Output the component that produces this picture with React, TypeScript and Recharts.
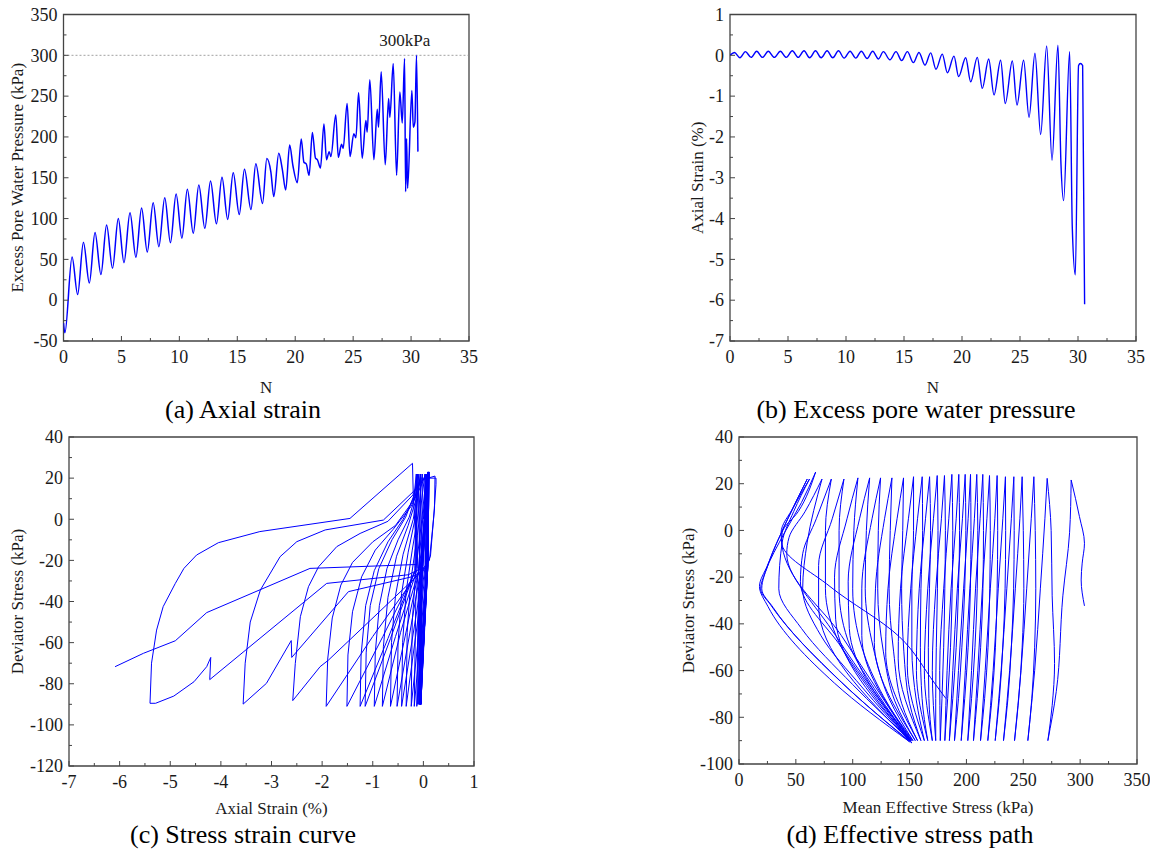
import { Line, LineChart, ReferenceArea, ReferenceDot, ReferenceLine, XAxis, YAxis } from "recharts";

const FONT = '"Liberation Serif", "Times New Roman", Times, serif';
const BLUE = "#0000ff";
const INK = "#1a1a1a";
const FRAME = "#444";

type Pt = [number, number];

// (a) excess pore water pressure against cycle number
const poreN = [
  0, 0.12, 0.74, 1.22, 1.72, 2.23, 2.72, 3.23, 3.72, 4.23, 4.73, 5.22, 5.74, 6.25, 6.74, 7.23, 7.74, 8.23,
  8.74, 9.23, 9.72, 10.22, 10.69, 11.2, 11.68, 12.2, 12.69, 13.2, 13.68, 14.17, 14.65, 15.17, 15.62, 16.18,
  16.6, 17.18, 17.55, 17.9, 18.15, 18.58, 18.88, 19.18, 19.52, 19.8, 20.18, 20.52, 20.75, 20.95, 21.2, 21.48,
  21.75, 21.92, 22.18, 22.48, 22.7, 22.93, 23.08, 23.5, 23.72, 24.0, 24.14, 24.48, 24.73, 25.06, 25.24, 25.47,
  25.78, 26.1, 26.21, 26.44, 26.79, 27.08, 27.19, 27.42, 27.77, 28.06, 28.17, 28.46, 28.75, 29.03, 29.24,
  29.44, 29.53, 29.61, 29.7, 30.07, 30.19, 30.33, 30.47, 30.59,
];
const poreKPa = [
  -28, -40, 53, 7, 71, 21, 83, 31.5, 92, 39, 100, 46, 107, 52.5, 113, 59, 119.5, 65.5, 125.5, 70.5, 130, 76,
  136, 82, 141, 88, 146, 93.5, 150.5, 99, 156, 105, 160.5, 111, 167, 118.5, 173.5, 157, 127, 180, 161, 135,
  190, 165, 144, 197.5, 169, 167, 153, 205.5, 174, 172, 162, 216, 172, 182, 176, 227, 175, 191, 186, 241, 176,
  204, 199, 254, 174, 220, 206, 270, 172, 234, 212, 280, 166, 247, 224, 290, 153, 255, 217, 296, 133, 198, 137,
  257, 212, 218, 300, 182,
];

// (b) axial strain against cycle number
const strainN = [
  0, 0.38, 0.86, 1.33, 1.82, 2.3, 2.8, 3.3, 3.82, 4.34, 4.85, 5.37, 5.88, 6.38, 6.87, 7.37, 7.86, 8.37, 8.86,
  9.35, 9.84, 10.35, 10.84, 11.32, 11.82, 12.3, 12.8, 13.22, 13.79, 14.31, 14.8, 15.29, 15.81, 16.29, 16.81,
  17.3, 17.76, 18.3, 18.74, 19.31, 19.71, 20.32, 20.75, 21.32, 21.75, 22.3, 22.76, 23.33, 23.73, 24.34, 24.74,
  25.31, 25.78, 26.29, 26.78, 27.3, 27.76, 28.27, 28.53, 28.76, 29.28, 29.51, 29.77, 30.05, 30.2, 30.4, 30.57,
];
const strainPct = [
  0, 0.07, -0.06, 0.09, -0.05, 0.1, -0.05, 0.1, -0.05, 0.1, -0.05, 0.11, -0.05, 0.11, -0.06, 0.11, -0.06, 0.11,
  -0.06, 0.11, -0.07, 0.1, -0.07, 0.1, -0.08, 0.1, -0.09, 0.09, -0.11, 0.09, -0.13, 0.09, -0.18, 0.07, -0.24,
  0.06, -0.34, 0.03, -0.43, -0.02, -0.52, -0.06, -0.65, -0.05, -0.81, -0.09, -0.97, -0.12, -1.18, -0.14, -1.22,
  -0.12, -1.52, 0.05, -1.94, 0.23, -2.57, 0.25, -2.65, -3.56, 0.09, -4.24, -5.38, -0.25, -0.2, -0.25, -6.1,
];

// (c) stress-strain loops: [axial strain %, deviator stress kPa], in test order
const ssEarly: Pt[] = [
  [0, 0], [0.07, 21], [0.05, -20], [-0.06, -90], [-0.04, -30],
  [0.09, 22], [0.07, -22], [-0.05, -90], [-0.03, -28],
  [0.1, 22], [0.08, -22], [-0.05, -90], [-0.03, -28],
  [0.1, 23], [0.08, -22], [-0.05, -90], [-0.03, -28],
  [0.1, 22], [0.08, -22], [-0.05, -90], [-0.03, -28],
  [0.11, 23], [0.09, -22], [-0.05, -90], [-0.03, -28],
  [0.11, 22], [0.09, -22], [-0.06, -90], [-0.04, -28],
  [0.11, 23], [0.09, -22], [-0.06, -90], [-0.04, -28],
  [0.11, 22], [0.09, -22], [-0.06, -90], [-0.04, -28],
  [0.11, 23], [0.09, -22], [-0.07, -90], [-0.05, -28],
  [0.1, 22], [0.08, -22], [-0.07, -90], [-0.05, -28],
  [0.1, 23], [0.08, -22], [-0.08, -90], [-0.06, -28],
  [0.1, 22], [0.08, -23], [-0.09, -90], [-0.07, -30],
  [0.09, 23],
];
const ssMid: Pt[] = [
  [0.07, -22], [-0.11, -90], [-0.09, -35], [0.09, 23],
  [0.07, -22], [-0.13, -91], [-0.1, -35], [0.09, 23],
  [0.07, -22], [-0.18, -91], [-0.15, -40], [-0.05, -10], [0.07, 22],
  [0.05, -22], [-0.24, -91], [-0.22, -50], [-0.15, -25], [-0.03, 0], [0.06, 22],
  [0.04, -22], [-0.34, -91], [-0.32, -55], [-0.25, -30], [-0.12, -8], [0.03, 22],
  [0.01, -23], [-0.43, -91], [-0.41, -60], [-0.34, -35], [-0.22, -15], [-0.1, 3], [-0.02, 22],
  [-0.04, -23], [-0.52, -91], [-0.5, -60], [-0.43, -36], [-0.3, -16], [-0.15, 2], [-0.06, 22],
  [-0.08, -24], [-0.65, -91], [-0.63, -60], [-0.55, -37], [-0.4, -17], [-0.2, 0], [-0.05, 22],
  [-0.08, -24], [-0.45, -55], [-0.81, -91], [-0.79, -62], [-0.7, -38], [-0.53, -18], [-0.3, -3], [-0.14, 10], [-0.09, 22],
  [-0.12, -24], [-0.55, -57], [-0.97, -91], [-0.95, -65], [-0.87, -42], [-0.72, -24], [-0.5, -10], [-0.28, 1], [-0.15, 12], [-0.12, 22],
  [-0.15, -24], [-0.65, -58], [-1.15, -91], [-1.13, -65], [-1.05, -42], [-0.88, -24], [-0.62, -10], [-0.35, 1], [-0.18, 12], [-0.14, 22],
  [-0.17, -25], [-0.7, -58], [-1.25, -91], [-1.23, -66], [-1.14, -42], [-0.97, -25], [-0.7, -11], [-0.4, 0], [-0.18, 11], [-0.12, 22],
];
const ssLate: Pt[] = [
  [-0.15, -25], [-0.8, -57], [-1.51, -91], [-1.49, -66], [-1.4, -45], [-1.22, -28], [-0.95, -15], [-0.6, -5], [-0.25, 6], [-0.05, 16], [0.05, 22],
  [0.02, -5], [-0.1, -26], [-1.0, -57], [-1.92, -91], [-1.89, -68], [-1.8, -48], [-1.63, -32], [-1.4, -21], [-1.0, -11], [-0.55, -3], [-0.2, 9], [-0.05, 19], [0.23, 21],
  [0.22, 5], [0.12, -20], [-0.1, -27], [-1.875, -68.5], [-2.04, -71.7], [-2.58, -88.2], [-2.53, -70.1], [-2.43, -47.4], [-2.27, -32.8], [-2.07, -23.1], [-1.71, -13.3], [-1.25, -6.9], [-0.7, -1], [-0.2, 12], [-0.05, 20], [0.25, 20],
  [0.25, 17], [0.2, 0], [0.14, -18], [0, -25], [-0.23, -28], [-1.48, -35.2], [-2.6, -67.2], [-2.61, -59], [-3.1, -79.8], [-3.56, -89.9], [-3.52, -70], [-3.42, -50], [-3.22, -34.4], [-2.83, -18.2], [-2.5, -10.9], [-1.94, -5.2], [-0.79, -0.4], [-0.2, 13.4], [0.09, 22],
  [0.06, 0], [-0.05, -24], [-0.3, -27], [-1.91, -31.2], [-4.22, -78], [-4.2, -67.2], [-4.28, -71.7], [-4.53, -79], [-4.93, -86], [-5.29, -89.5], [-5.4, -89.5], [-5.37, -70], [-5.27, -53.9], [-5.14, -42.5], [-4.9, -31.2], [-4.73, -23.9], [-4.48, -17.4], [-4.05, -11.4], [-3.23, -6], [-1.45, 0.4], [-0.215, 27.2],
  [-0.2, 12], [-0.15, -10], [-0.13, -22], [-2.24, -23.9], [-4.28, -45.4], [-4.9, -59.1], [-5.53, -65.2], [-6.09, -71.7],
];

// (d) effective stress path: [mean effective stress kPa, deviator stress kPa]
const espStart: Pt[] = [[303.8, -32.3], [300.9, -21.2], [301.8, -14], [303.8, -5.5], [299.4, 5.9], [292.1, 21.6]];
const espEarly: Pt[] = [
  [290.7, -1], [284.8, -28], [279, -69], [271.6, -90],
  [275.4, -75], [277.5, -57], [275.4, -28], [274.5, 0], [271, 22.3],
  [269, 5], [265, -25], [260, -60], [254, -90],
  [257.5, -72], [260, -50], [261, -25], [260.5, 0], [259.3, 23],
  [257, 5], [253, -25], [248, -60], [242.3, -90],
  [246, -72], [249, -50], [250.5, -25], [250, 0], [249, 23],
  [247, 5], [243, -25], [238, -60], [232.6, -90],
  [236.5, -72], [239.5, -50], [241.5, -25], [242, 0], [241.7, 23],
  [239.5, 5], [235.5, -25], [230.5, -60], [225.3, -90],
  [229, -72], [232, -50], [234, -25], [234.5, 0], [234.3, 23],
  [232, 5], [228, -25], [223.5, -60], [218.8, -90],
  [222.5, -72], [225.5, -50], [227, -25], [227.5, 0], [227, 23.5],
  [225, 5], [221, -25], [216.5, -60], [212.4, -90],
  [216, -72], [219, -50], [220.5, -25], [221, 0], [220.3, 23.5],
  [218, 5], [214, -25], [210, -60], [206.2, -90],
  [209.5, -72], [212.5, -50], [214.5, -25], [215, 0], [214.4, 24],
  [212, 5], [208, -25], [204.5, -60], [201.2, -90],
  [204.5, -72], [207.5, -50], [209.5, -25], [210, 0], [209.1, 24],
  [207, 5], [203, -25], [199, -60], [195.4, -90],
  [198.5, -72], [201.5, -50], [203.5, -25], [204, 0], [203.6, 24],
  [201.5, 5], [197.5, -25], [193, -60], [189.5, -90],
  [193, -72], [196, -50], [198.5, -25], [199.5, 0], [198.9, 24],
  [196.5, 5], [192, -25], [188, -60], [185, -90],
  [188, -72], [191, -50], [193, -25], [194, 0], [193.3, 24],
  [191, 5], [186.5, -25], [183, -60], [181, -90],
  [183.5, -72], [186, -50], [187.5, -25], [188, 0], [187.2, 24],
  [184.5, 5], [180, -25], [176.5, -60], [177, -90],
  [178.5, -72], [180, -50], [181, -25], [181.5, 0], [180.7, 23.5],
  [178, 5], [173, -25], [170, -60], [173, -90],
  [173, -72], [173.5, -50], [174.5, -25], [175, 0], [174.3, 23.5],
  [171, 5], [166, -25], [163, -60], [170, -90],
  [167, -72], [166.5, -50], [167.5, -25], [168.5, 0], [167.6, 23],
  [164, 5], [158.5, -25], [156, -60], [166, -90],
  [161, -72], [159.5, -50], [160, -25], [161.5, 0], [161.1, 23],
];
const espLate: Pt[] = [
  [157, 5], [151, -25], [148, -58], [163, -90],
  [156, -73], [152, -50], [152, -25], [153.5, 0], [153.5, 23],
  [149, 5], [142, -25], [140, -55], [160, -90],
  [150, -74], [145, -52], [143, -25], [144, 0], [144.7, 22.5],
  [139, 5], [131, -25], [129, -52], [157, -90],
  [143, -74], [136, -52], [132, -25], [133, 0], [134.5, 22.5],
  [128, 5], [120, -25], [119, -48], [155, -90],
  [137, -73], [127, -52], [122, -25], [122.5, 0], [124.5, 22.5],
  [117, 5], [108, -25], [108, -45], [153, -90],
  [132, -72], [118, -50], [111, -25], [112, 0], [114.9, 22.5],
  [106, 5], [96, -22], [97, -42], [152, -90],
  [127, -71], [108, -50], [100, -25], [101, 0], [104.6, 22.5],
  [95, 5], [84, -20], [85, -38], [151, -90],
  [122, -70], [98, -50], [88, -25], [88, 0], [92.3, 22],
  [82, 5], [70, -15], [70, -32], [150, -90],
  [116, -69], [88, -48], [76, -25], [76, 0], [81.2, 22],
  [68, 5], [56, -10], [54, -22], [90, -50], [150, -90],
  [108, -67], [72, -45], [56, -25], [60, -5], [73, 22],
  [58, 8], [44, -3], [42, -10], [90, -45], [151, -90],
  [100, -66], [55, -42], [35, -25], [38, -5], [48, 8], [62, 22],
  [48, 10], [37, -1], [38, -7], [85, -45], [152, -91],
  [90, -65], [30, -33], [20, -25], [26, -14], [42, 4], [60, 22],
  [40, 2], [25, -15], [18, -24], [25.5, -32.6], [84, -65.4], [150, -90.5],
  [88, -64], [28, -32], [19, -25], [23, -18], [40, -1], [55, 12], [67.4, 25],
  [52, 8], [38, -1], [37.5, -5], [80, -24], [141, -45.5], [172, -65.4], [182, -72],
];

// axis ticks
const nMajor = [0, 5, 10, 15, 20, 25, 30, 35];
const nTicks = [0, 2.5, 5, 7.5, 10, 12.5, 15, 17.5, 20, 22.5, 25, 27.5, 30, 32.5, 35];
const poreMajor = [-50, 0, 50, 100, 150, 200, 250, 300, 350];
const poreTicks = [-50, -25, 0, 25, 50, 75, 100, 125, 150, 175, 200, 225, 250, 275, 300, 325, 350];
const strainMajor = [-7, -6, -5, -4, -3, -2, -1, 0, 1];
const strainTicks = [-7, -6.5, -6, -5.5, -5, -4.5, -4, -3.5, -3, -2.5, -2, -1.5, -1, -0.5, 0, 0.5, 1];
const qMajorC = [-120, -100, -80, -60, -40, -20, 0, 20, 40];
const qTicksC = [-120, -110, -100, -90, -80, -70, -60, -50, -40, -30, -20, -10, 0, 10, 20, 30, 40];
const pMajor = [0, 50, 100, 150, 200, 250, 300, 350];
const pTicks = [0, 25, 50, 75, 100, 125, 150, 175, 200, 225, 250, 275, 300, 325, 350];
const qMajorD = [-100, -80, -60, -40, -20, 0, 20, 40];
const qTicksD = [-100, -90, -80, -70, -60, -50, -40, -30, -20, -10, 0, 10, 20, 30, 40];

const series = (xs: number[], ys: number[]) => xs.map((x, i) => ({ x, y: ys[i] }));
const asXY = (pts: Pt[]) => pts.map(([x, y]) => ({ x, y }));

// split a closed-loop path into branches where the deviator stress changes direction
function toBranches(path: Pt[]) {
  const out: { x: number; y: number }[][] = [];
  let cur: Pt[] = [path[0]];
  let dir = 0;
  for (let i = 1; i < path.length; i++) {
    const d = Math.sign(path[i][1] - path[i - 1][1]);
    if (dir !== 0 && d !== 0 && d !== dir) {
      out.push(asXY(cur));
      cur = [path[i - 1]];
    }
    if (d !== 0) dir = d;
    cur.push(path[i]);
  }
  out.push(asXY(cur));
  return out;
}

const poreData = series(poreN, poreKPa);
const strainData = series(strainN, strainPct);
const ssData = asXY([...ssEarly, ...ssMid, ...ssLate]);
const espBranches = toBranches([...espStart, ...espEarly, ...espLate]);

const bottomTick = (majors: number[]) => (p: any) => {
  const { x, y, payload } = p;
  const major = majors.includes(payload.value);
  return (
    <g>
      <line x1={x} x2={x} y1={y} y2={y - (major ? 5 : 3)} stroke={FRAME} strokeWidth={1} />
      {major && (
        <text x={x} y={y + 22} textAnchor="middle" fontSize={18} fontFamily={FONT} fill={INK}>
          {payload.value}
        </text>
      )}
    </g>
  );
};

const leftTick = (majors: number[]) => (p: any) => {
  const { x, y, payload } = p;
  const major = majors.includes(payload.value);
  return (
    <g>
      <line x1={x} x2={x + (major ? 5 : 3)} y1={y} y2={y} stroke={FRAME} strokeWidth={1} />
      {major && (
        <text x={x - 6} y={y} dy="0.35em" textAnchor="end" fontSize={18} fontFamily={FONT} fill={INK}>
          {payload.value}
        </text>
      )}
    </g>
  );
};

const xAxisProps = (domain: [number, number], ticks: number[], majors: number[], height: number, label: string, offset: number) => ({
  type: "number" as const,
  dataKey: "x",
  domain,
  ticks,
  interval: 0 as const,
  height,
  allowDataOverflow: true,
  axisLine: false,
  tickLine: false,
  tickSize: 0,
  tickMargin: 0,
  tick: bottomTick(majors),
  label: { value: label, position: "insideBottom" as const, offset, fontSize: 17, fontFamily: FONT, fill: INK },
});

const yAxisProps = (domain: [number, number], ticks: number[], majors: number[], width: number, label: string, offset: number) => ({
  type: "number" as const,
  domain,
  ticks,
  interval: 0 as const,
  width,
  allowDataOverflow: true,
  axisLine: false,
  tickLine: false,
  tickSize: 0,
  tickMargin: 0,
  tick: leftTick(majors),
  label: {
    value: label,
    angle: -90,
    position: "insideLeft" as const,
    offset,
    fontSize: 17,
    fontFamily: FONT,
    fill: INK,
    style: { textAnchor: "middle" },
  },
});

const frame = (x1: number, x2: number, y1: number, y2: number) => (
  <ReferenceArea x1={x1} x2={x2} y1={y1} y2={y2} fill="none" stroke={FRAME} strokeWidth={1.3} ifOverflow="visible" />
);

const titleStyle = (cx: number, top: number) => ({
  position: "absolute" as const,
  left: cx - 250,
  top,
  width: 500,
  textAlign: "center" as const,
  fontSize: 26,
  fontFamily: FONT,
  color: "#000",
  lineHeight: "30px",
});

export default function App() {
  return (
    <div style={{ position: "absolute", left: 0, top: 0, width: 1156, height: 855, background: "#fff", overflow: "hidden" }}>
      <div style={{ position: "absolute", left: 0, top: 0 }}>
        <LineChart width={480} height={400} margin={{ top: 14.5, right: 11, bottom: 0, left: 0 }}>
          <XAxis {...xAxisProps([0, 35], nTicks, nMajor, 59, "N", 7)} />
          <YAxis {...yAxisProps([-50, 350], poreTicks, poreMajor, 63.5, "Excess Pore Water Pressure (kPa)", 17)} />
          <ReferenceLine y={300} stroke="#8a8a8a" strokeDasharray="2 2" strokeWidth={0.8} />
          <ReferenceDot
            x={29.46}
            y={300}
            r={0}
            fill="none"
            stroke="none"
            label={{ value: "300kPa", position: "top", offset: 9, fontSize: 17, fontFamily: FONT, fill: INK }}
          />
          {frame(0, 35, -50, 350)}
          <Line data={poreData} dataKey="y" type="monotone" stroke={BLUE} strokeWidth={1.5} dot={false} activeDot={false} isAnimationActive={false} />
        </LineChart>
      </div>

      <div style={{ position: "absolute", left: 650, top: 0 }}>
        <LineChart width={500} height={400} margin={{ top: 14.5, right: 14, bottom: 0, left: 0 }}>
          <XAxis {...xAxisProps([0, 35], nTicks, nMajor, 59, "N", 7)} />
          <YAxis {...yAxisProps([-7, 1], strainTicks, strainMajor, 80, "Axial Strain (%)", 47)} />
          {frame(0, 35, -7, 1)}
          <Line data={strainData} dataKey="y" type="monotone" stroke={BLUE} strokeWidth={1.4} dot={false} activeDot={false} isAnimationActive={false} />
        </LineChart>
      </div>

      <div style={{ position: "absolute", left: 0, top: 420 }}>
        <LineChart width={480} height={435} margin={{ top: 17, right: 6, bottom: 0, left: 0 }}>
          <XAxis {...xAxisProps([-7, 1], strainTicks, strainMajor, 89, "Axial Strain (%)", 41)} />
          <YAxis {...yAxisProps([-120, 40], qTicksC, qMajorC, 69, "Deviator Stress (kPa)", 17)} />
          {frame(-7, 1, -120, 40)}
          <Line data={ssData} dataKey="y" type="linear" stroke={BLUE} strokeWidth={1} dot={false} activeDot={false} isAnimationActive={false} />
        </LineChart>
      </div>

      <div style={{ position: "absolute", left: 650, top: 420 }}>
        <LineChart width={500} height={435} margin={{ top: 17, right: 13, bottom: 0, left: 0 }}>
          <XAxis {...xAxisProps([0, 350], pTicks, pMajor, 91, "Mean Effective Stress (kPa)", 42)} />
          <YAxis {...yAxisProps([-100, 40], qTicksD, qMajorD, 89, "Deviator Stress (kPa)", 38)} />
          {frame(0, 350, -100, 40)}
          {espBranches.map((b, i) => (
            <Line key={i} data={b} dataKey="y" type="monotoneY" stroke={BLUE} strokeWidth={1} dot={false} activeDot={false} isAnimationActive={false} />
          ))}
        </LineChart>
      </div>

      <div style={titleStyle(243, 395)}>(a) Axial strain</div>
      <div style={titleStyle(916, 395)}>(b) Excess pore water pressure</div>
      <div style={titleStyle(243, 820)}>(c) Stress strain curve</div>
      <div style={titleStyle(910, 820)}>(d) Effective stress path</div>
    </div>
  );
}
